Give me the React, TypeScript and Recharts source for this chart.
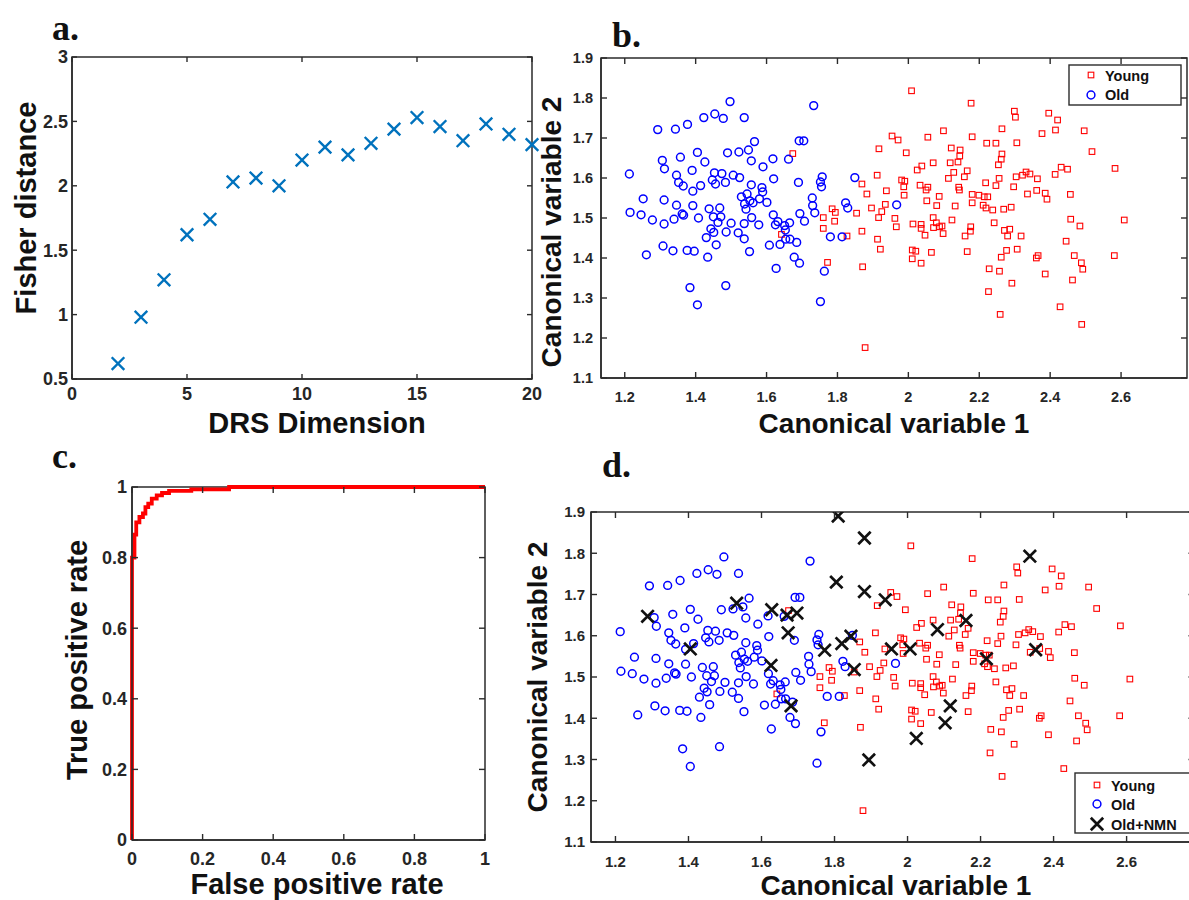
import React from 'react';
import { ScatterChart, Scatter, XAxis, YAxis, ReferenceArea, LineChart, Line } from 'recharts';

// ---------- data ----------
const drsDims = [2, 3, 4, 5, 6, 7, 8, 9, 10, 11, 12, 13, 14, 15, 16, 17, 18, 19, 20];
const fisherDist = [0.62, 0.98, 1.27, 1.62, 1.74, 2.03, 2.06, 2.0, 2.2, 2.3, 2.24, 2.33, 2.44, 2.53, 2.46, 2.35, 2.48, 2.4, 2.32];
const fisherXTicks = [0, 5, 10, 15, 20];
const fisherYTicks = [0.5, 1, 1.5, 2, 2.5, 3];

const rocFpr = [0, 0, 0.007, 0.007, 0.012, 0.012, 0.021, 0.021, 0.031, 0.031, 0.038, 0.038, 0.046, 0.046, 0.056, 0.056, 0.07, 0.07, 0.085, 0.085, 0.105, 0.105, 0.168, 0.168, 0.275, 0.275, 1];
const rocTpr = [0, 0.8, 0.8, 0.865, 0.865, 0.9, 0.9, 0.915, 0.915, 0.925, 0.925, 0.943, 0.943, 0.953, 0.953, 0.967, 0.967, 0.976, 0.976, 0.983, 0.983, 0.989, 0.989, 0.993, 0.993, 1, 1];
const rocTicks = [0, 0.2, 0.4, 0.6, 0.8, 1];

const cvXTicks = [1.2, 1.4, 1.6, 1.8, 2, 2.2, 2.4, 2.6];
const cvYTicks = [1.1, 1.2, 1.3, 1.4, 1.5, 1.6, 1.7, 1.8, 1.9];

const oldPoints: [number, number][] = [
  [1.497, 1.791], [1.423, 1.751], [1.454, 1.76], [1.478, 1.749], [1.537, 1.751], [1.293, 1.721], [1.343, 1.722], [1.377, 1.734],
  [1.306, 1.644], [1.312, 1.623], [1.357, 1.652], [1.405, 1.664], [1.426, 1.64], [1.39, 1.619], [1.49, 1.663], [1.522, 1.665],
  [1.549, 1.67], [1.566, 1.691], [1.557, 1.643], [1.59, 1.628], [1.618, 1.648], [1.662, 1.647], [1.692, 1.693], [1.705, 1.693],
  [1.213, 1.61], [1.346, 1.607], [1.352, 1.589], [1.365, 1.58], [1.392, 1.567], [1.414, 1.581], [1.453, 1.613], [1.474, 1.611],
  [1.447, 1.595], [1.456, 1.585], [1.484, 1.589], [1.506, 1.607], [1.524, 1.601], [1.557, 1.583], [1.587, 1.576], [1.589, 1.565],
  [1.62, 1.598], [1.69, 1.589], [1.529, 1.553], [1.545, 1.56], [1.553, 1.543], [1.562, 1.538], [1.58, 1.548], [1.601, 1.539],
  [1.538, 1.535], [1.542, 1.522], [1.558, 1.501], [1.252, 1.548], [1.311, 1.545], [1.346, 1.532], [1.392, 1.531], [1.215, 1.514],
  [1.246, 1.508], [1.278, 1.495], [1.311, 1.485], [1.339, 1.497], [1.362, 1.51], [1.366, 1.507], [1.408, 1.5], [1.438, 1.523],
  [1.468, 1.525], [1.45, 1.503], [1.471, 1.503], [1.463, 1.489], [1.5, 1.487], [1.443, 1.473], [1.451, 1.464], [1.43, 1.451],
  [1.486, 1.465], [1.52, 1.463], [1.537, 1.486], [1.537, 1.448], [1.578, 1.483], [1.619, 1.508], [1.625, 1.483], [1.632, 1.491],
  [1.651, 1.481], [1.665, 1.488], [1.694, 1.511], [1.707, 1.492], [1.608, 1.432], [1.638, 1.434], [1.654, 1.447], [1.666, 1.447],
  [1.685, 1.439], [1.653, 1.47], [1.308, 1.43], [1.336, 1.418], [1.261, 1.408], [1.376, 1.419], [1.396, 1.417], [1.458, 1.433],
  [1.434, 1.402], [1.552, 1.416], [1.627, 1.374], [1.678, 1.402], [1.693, 1.387], [1.384, 1.326], [1.485, 1.331], [1.405, 1.283],
  [1.733, 1.781], [1.757, 1.603], [1.752, 1.59], [1.755, 1.578], [1.849, 1.601], [1.729, 1.55], [1.73, 1.531], [1.736, 1.513],
  [1.823, 1.538], [1.829, 1.525], [1.78, 1.453], [1.813, 1.453], [1.763, 1.367], [1.967, 1.533], [1.752, 1.291],
];

const youngPoints: [number, number][] = [
  [1.674, 1.661], [1.642, 1.459],
  [2.009, 1.818], [2.177, 1.787], [2.099, 1.718], [1.954, 1.705], [1.971, 1.695], [2.055, 1.702], [2.18, 1.703], [2.221, 1.687],
  [1.917, 1.673], [1.994, 1.663], [2.121, 1.675], [2.146, 1.67], [2.145, 1.655], [2.14, 1.64], [2.118, 1.638], [2.07, 1.638],
  [2.038, 1.63], [2.025, 1.62], [2.166, 1.618], [2.128, 1.614], [2.113, 1.599], [2.158, 1.603], [1.912, 1.607], [1.981, 1.595],
  [1.99, 1.592], [1.869, 1.585], [1.987, 1.578], [2.033, 1.582], [2.055, 1.577], [2.05, 1.57], [2.142, 1.577], [2.144, 1.57],
  [2.218, 1.588], [1.883, 1.56], [1.938, 1.568], [1.988, 1.557], [2.087, 1.554], [2.18, 1.559], [2.199, 1.557], [2.214, 1.553],
  [2.224, 1.553], [2.052, 1.543], [2.18, 1.538], [1.935, 1.534], [1.896, 1.525], [1.925, 1.516], [2.08, 1.531], [2.132, 1.53],
  [2.211, 1.532], [2.219, 1.525], [1.785, 1.523], [1.794, 1.514], [1.854, 1.512], [1.76, 1.501], [1.916, 1.501], [1.962, 1.499],
  [2.07, 1.501], [2.123, 1.495], [1.792, 1.492], [2.013, 1.485], [2.036, 1.484], [2.079, 1.488], [2.095, 1.48], [2.036, 1.474],
  [2.071, 1.476], [2.088, 1.478], [1.966, 1.478], [1.76, 1.474], [2.176, 1.478], [2.175, 1.467], [1.869, 1.467], [2.098, 1.461],
  [2.047, 1.457], [2.16, 1.455], [1.827, 1.455], [1.913, 1.447], [1.921, 1.422], [2.011, 1.42], [2.021, 1.417], [2.065, 1.414],
  [2.166, 1.416], [2.011, 1.398], [2.036, 1.387], [1.772, 1.389], [1.871, 1.378], [2.228, 1.373], [1.878, 1.176], [2.226, 1.316],
  [2.299, 1.767], [2.302, 1.752], [2.396, 1.762], [2.421, 1.745], [2.264, 1.723], [2.415, 1.72], [2.496, 1.718], [2.377, 1.711],
  [2.247, 1.687], [2.306, 1.688], [2.518, 1.666], [2.264, 1.66], [2.262, 1.647], [2.254, 1.633], [2.583, 1.624], [2.431, 1.627],
  [2.449, 1.622], [2.414, 1.609], [2.256, 1.599], [2.304, 1.603], [2.322, 1.607], [2.332, 1.615], [2.343, 1.61], [2.364, 1.598],
  [2.247, 1.581], [2.297, 1.578], [2.362, 1.569], [2.336, 1.56], [2.386, 1.562], [2.391, 1.547], [2.457, 1.559], [2.238, 1.52],
  [2.269, 1.522], [2.29, 1.527], [2.242, 1.488], [2.271, 1.469], [2.286, 1.472], [2.28, 1.455], [2.318, 1.455], [2.458, 1.497],
  [2.484, 1.48], [2.609, 1.495], [2.445, 1.442], [2.307, 1.422], [2.277, 1.419], [2.262, 1.402], [2.366, 1.406], [2.361, 1.4],
  [2.468, 1.406], [2.488, 1.388], [2.492, 1.372], [2.581, 1.406], [2.257, 1.367], [2.386, 1.36], [2.463, 1.345], [2.292, 1.337],
  [2.428, 1.278], [2.259, 1.259], [2.489, 1.234],
];

const nmnPoints: [number, number][] = [
  [1.81, 1.89], [1.882, 1.837], [2.335, 1.793], [1.805, 1.73], [1.882, 1.707], [1.939, 1.687], [1.288, 1.647], [1.532, 1.679],
  [1.628, 1.663], [1.67, 1.65], [1.697, 1.655], [2.16, 1.637], [1.673, 1.607], [2.082, 1.615], [1.405, 1.568], [1.773, 1.565],
  [1.82, 1.581], [1.845, 1.599], [1.956, 1.568], [2.007, 1.568], [2.351, 1.566], [1.626, 1.528], [1.854, 1.518], [2.216, 1.544],
  [1.681, 1.43], [2.117, 1.43], [2.103, 1.389], [2.024, 1.351], [1.894, 1.299],
];

// ---------- styling ----------
const SANS = '"Liberation Sans", Arial, Helvetica, sans-serif';
const SERIF = '"Liberation Serif", "Times New Roman", serif';
const AX = '#2b2b2b';
const TXT = '#262626';
const CV_X_DOMAIN: [number, number] = [1.133, 2.786];
const CV_Y_DOMAIN: [number, number] = [1.1, 1.9];

const fmt = (v: number) => String(Math.round(v * 100) / 100);

type TickOpts = { other: number; len: number; fs: number; gap: number };

const makeXTick = (o: TickOpts) => (p: any) => {
  const { x, y, payload } = p;
  return (
    <g>
      <line x1={x} x2={x} y1={y} y2={y - o.len} stroke={AX} strokeWidth={1.4} />
      <line x1={x} x2={x} y1={o.other} y2={o.other + o.len} stroke={AX} strokeWidth={1.4} />
      <text x={x} y={y + o.gap + o.fs * 0.72} textAnchor="middle" fontFamily={SANS} fontWeight={700} fontSize={o.fs} fill={TXT}>
        {fmt(payload.value)}
      </text>
    </g>
  );
};

const makeYTick = (o: TickOpts) => (p: any) => {
  const { x, y, payload } = p;
  return (
    <g>
      <line x1={x} x2={x + o.len} y1={y} y2={y} stroke={AX} strokeWidth={1.4} />
      <line x1={o.other} x2={o.other - o.len} y1={y} y2={y} stroke={AX} strokeWidth={1.4} />
      <text x={x - o.gap} y={y + o.fs * 0.36} textAnchor="end" fontFamily={SANS} fontWeight={700} fontSize={o.fs} fill={TXT}>
        {fmt(payload.value)}
      </text>
    </g>
  );
};

const BlueCross = (p: any) => {
  const { cx, cy } = p;
  const s = 6.3;
  return <path d={`M${cx - s},${cy - s}L${cx + s},${cy + s}M${cx - s},${cy + s}L${cx + s},${cy - s}`} stroke="#0072BD" strokeWidth={2.4} fill="none" />;
};
const BlackCross = (p: any) => {
  const { cx, cy } = p;
  const s = 6.2;
  return <path d={`M${cx - s},${cy - s}L${cx + s},${cy + s}M${cx - s},${cy + s}L${cx + s},${cy - s}`} stroke="#111" strokeWidth={2.7} fill="none" />;
};
const BlueCircle = (p: any) => <circle cx={p.cx} cy={p.cy} r={3.9} fill="none" stroke="#0000FF" strokeWidth={1.5} />;
const RedSquare = (p: any) => <rect x={p.cx - 2.8} y={p.cy - 2.8} width={5.6} height={5.6} fill="none" stroke="#FF0000" strokeWidth={1.1} />;

const toRows = (pts: [number, number][]) => pts.map(([x, y]) => ({ x, y }));

// ---------- panels ----------
function PanelA() {
  const W = 545, H = 440;
  const m = { top: 57, right: 13, left: 0, bottom: 0 };
  const yW = 72, xH = 61;
  const rows = drsDims.map((d, i) => ({ x: d, y: fisherDist[i] }));
  return (
    <ScatterChart width={W} height={H} margin={m}>
      <XAxis type="number" dataKey="x" domain={[0, 20]} ticks={fisherXTicks} interval={0} height={xH} tickSize={0} tickMargin={0}
        tickLine={false} axisLine={{ stroke: AX, strokeWidth: 1.5 }} tick={makeXTick({ other: m.top, len: 5, fs: 18, gap: 8 })} />
      <YAxis type="number" dataKey="y" domain={[0.5, 3]} ticks={fisherYTicks} interval={0} width={yW} tickSize={0} tickMargin={0}
        tickLine={false} axisLine={{ stroke: AX, strokeWidth: 1.5 }} tick={makeYTick({ other: W - m.right, len: 5, fs: 18, gap: 4 })} />
      <ReferenceArea x1={0} x2={20} y1={0.5} y2={3} fill="none" stroke={AX} strokeWidth={1.5} />
      <Scatter data={rows} shape={BlueCross} isAnimationActive={false} />
    </ScatterChart>
  );
}

function PanelC() {
  const W = 545, H = 460;
  const m = { top: 47, right: 60, left: 0, bottom: 0 };
  const yW = 132, xH = 60;
  const rows = rocFpr.map((f, i) => ({ fpr: f, tpr: rocTpr[i] }));
  return (
    <LineChart width={W} height={H} margin={m} data={rows}>
      <XAxis type="number" dataKey="fpr" domain={[0, 1]} ticks={rocTicks} interval={0} height={xH} tickSize={0} tickMargin={0}
        tickLine={false} axisLine={{ stroke: AX, strokeWidth: 1.5 }} tick={makeXTick({ other: m.top, len: 6, fs: 18, gap: 12 })} />
      <YAxis type="number" domain={[0, 1]} ticks={rocTicks} interval={0} width={yW} tickSize={0} tickMargin={0}
        tickLine={false} axisLine={{ stroke: AX, strokeWidth: 1.5 }} tick={makeYTick({ other: W - m.right, len: 6, fs: 18, gap: 5 })} />
      <ReferenceArea x1={0} x2={1} y1={0} y2={1} fill="none" stroke={AX} strokeWidth={1.5} />
      <Line type="linear" dataKey="tpr" stroke="#FF0000" strokeWidth={3.8} dot={false} isAnimationActive={false} />
    </LineChart>
  );
}

function CanonPanel(props: { W: number; H: number; top: number; right: number; yW: number; xH: number; fsX: number; gapX: number; gapY: number; withNmn: boolean }) {
  const { W, H, top, right, yW, xH, fsX, gapX, gapY, withNmn } = props;
  const m = { top, right, left: 0, bottom: 0 };
  return (
    <ScatterChart width={W} height={H} margin={m}>
      <XAxis type="number" dataKey="x" domain={CV_X_DOMAIN} allowDataOverflow ticks={cvXTicks} interval={0} height={xH} tickSize={0} tickMargin={0}
        tickLine={false} axisLine={{ stroke: AX, strokeWidth: 1.5 }} tick={makeXTick({ other: top, len: 6, fs: fsX, gap: gapX })} />
      <YAxis type="number" dataKey="y" domain={CV_Y_DOMAIN} allowDataOverflow ticks={cvYTicks} interval={0} width={yW} tickSize={0} tickMargin={0}
        tickLine={false} axisLine={{ stroke: AX, strokeWidth: 1.5 }} tick={makeYTick({ other: W - right, len: 6, fs: fsX, gap: gapY })} />
      <ReferenceArea x1={CV_X_DOMAIN[0]} x2={CV_X_DOMAIN[1]} y1={CV_Y_DOMAIN[0]} y2={CV_Y_DOMAIN[1]} fill="none" stroke={AX} strokeWidth={1.5} />
      <Scatter name="Young" data={toRows(youngPoints)} shape={RedSquare} isAnimationActive={false} />
      <Scatter name="Old" data={toRows(oldPoints)} shape={BlueCircle} isAnimationActive={false} />
      {withNmn && <Scatter name="Old+NMN" data={toRows(nmnPoints)} shape={BlackCross} isAnimationActive={false} />}
    </ScatterChart>
  );
}

const titleStyle = { fontFamily: SANS, fontWeight: 700, fill: '#111' } as const;
const letterStyle = { fontFamily: SERIF, fontWeight: 700, fill: '#111', fontSize: 36 } as const;

function Overlay() {
  return (
    <svg width={1189} height={900} style={{ position: 'absolute', left: 0, top: 0, pointerEvents: 'none' }}>
      {/* panel letters */}
      <text x={52} y={40} {...letterStyle}>a.</text>
      <text x={612} y={47} {...letterStyle}>b.</text>
      <text x={52} y={468} {...letterStyle}>c.</text>
      <text x={602} y={477} {...letterStyle}>d.</text>

      {/* axis titles a */}
      <text x={36} y={208} transform="rotate(-90 36 208)" textAnchor="middle" fontSize={29} {...titleStyle}>Fisher distance</text>
      <text x={317} y={433} textAnchor="middle" fontSize={29} {...titleStyle}>DRS Dimension</text>

      {/* axis titles b */}
      <text x={561} y={232} transform="rotate(-90 561 232)" textAnchor="middle" fontSize={28} {...titleStyle}>Canonical variable 2</text>
      <text x={894} y={433} textAnchor="middle" fontSize={28} {...titleStyle}>Canonical variable 1</text>

      {/* axis titles c */}
      <text x={87} y={660} transform="rotate(-90 87 660)" textAnchor="middle" fontSize={29} {...titleStyle}>True positive rate</text>
      <text x={317} y={894} textAnchor="middle" fontSize={29} {...titleStyle}>False positive rate</text>

      {/* axis titles d */}
      <text x={547} y={677} transform="rotate(-90 547 677)" textAnchor="middle" fontSize={28} {...titleStyle}>Canonical variable 2</text>
      <text x={896} y={895} textAnchor="middle" fontSize={28} {...titleStyle}>Canonical variable 1</text>

      {/* legend b */}
      <rect x={1069} y={65} width={112} height={40} fill="#fff" stroke={AX} strokeWidth={1.4} />
      <RedSquare cx={1091} cy={75} />
      <text x={1105} y={81} fontSize={14.5} {...titleStyle}>Young</text>
      <BlueCircle cx={1091} cy={95} />
      <text x={1105} y={100} fontSize={14.5} {...titleStyle}>Old</text>

      {/* legend d */}
      <rect x={1075} y={773} width={120} height={60} fill="#fff" stroke={AX} strokeWidth={1.4} />
      <RedSquare cx={1097} cy={785} />
      <text x={1111} y={791} fontSize={14.5} {...titleStyle}>Young</text>
      <BlueCircle cx={1097} cy={804} />
      <text x={1111} y={810} fontSize={14.5} {...titleStyle}>Old</text>
      <BlackCross cx={1097} cy={824} />
      <text x={1111} y={830} fontSize={14.5} {...titleStyle}>Old+NMN</text>
    </svg>
  );
}

export default function App() {
  return (
    <div style={{ position: 'absolute', left: 0, top: 0, width: 1189, height: 900, overflow: 'hidden', background: '#fff' }}>
      <div style={{ position: 'absolute', left: 0, top: 0 }}>
        <PanelA />
      </div>
      <div style={{ position: 'absolute', left: 545, top: 0 }}>
        <CanonPanel W={644} H={440} top={58} right={2} yW={56} xH={62} fsX={14.5} gapX={14} gapY={8} withNmn={false} />
      </div>
      <div style={{ position: 'absolute', left: 0, top: 440 }}>
        <PanelC />
      </div>
      <div style={{ position: 'absolute', left: 545, top: 440 }}>
        <CanonPanel W={660} H={460} top={72} right={10.5} yW={46} xH={58} fsX={15} gapX={14} gapY={6} withNmn={true} />
      </div>
      <Overlay />
    </div>
  );
}
